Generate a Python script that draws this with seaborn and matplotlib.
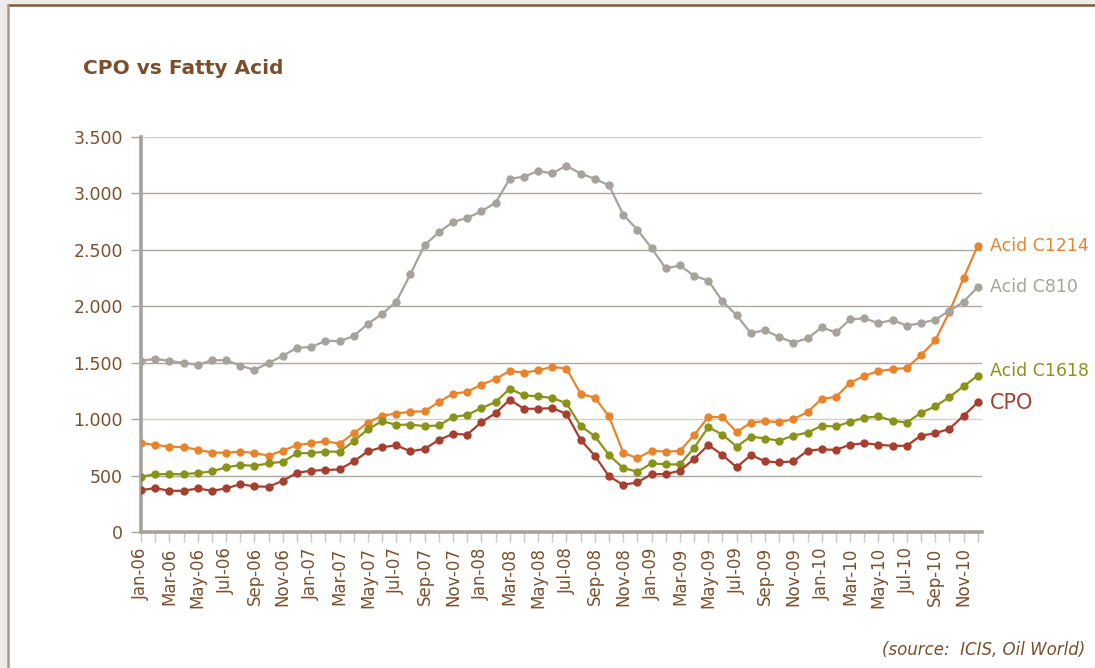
#!/usr/bin/env python

# Modules
import matplotlib
matplotlib.use('Agg')
import matplotlib.pyplot as plt
import matplotlib.patches as mpatches
from matplotlib.lines import Line2D
from matplotlib.ticker import FuncFormatter
import pandas as pd
import seaborn as sns

# Data (monthly, Jan-06 .. Dec-10)
months = pd.date_range('2006-01-01', periods=60, freq='MS')
month_labels = [d.strftime('%b-%y') for d in months]

acid_c810 = [1516, 1534, 1516, 1498, 1481, 1522, 1522, 1475, 1436, 1498,
             1561, 1632, 1638, 1694, 1691, 1736, 1845, 1932, 2041, 2285,
             2543, 2655, 2747, 2783, 2842, 2917, 3130, 3148, 3198, 3178,
             3246, 3175, 3130, 3071, 2813, 2679, 2516, 2335, 2362, 2270,
             2228, 2044, 1920, 1762, 1789, 1727, 1679, 1715, 1813, 1768,
             1884, 1893, 1851, 1878, 1828, 1851, 1881, 1960, 2040, 2170]

acid_c1214 = [789, 771, 757, 751, 730, 703, 703, 712, 700, 676,
              721, 771, 786, 804, 783, 875, 970, 1030, 1050, 1065,
              1070, 1151, 1225, 1243, 1305, 1356, 1427, 1412, 1433, 1463,
              1448, 1225, 1190, 1024, 703, 653, 721, 712, 718, 860,
              1018, 1020, 884, 970, 982, 973, 1000, 1062, 1181, 1196,
              1323, 1383, 1427, 1442, 1454, 1567, 1697, 1950, 2249, 2537]

acid_c1618 = [490, 513, 513, 513, 522, 537, 573, 593, 587, 608,
              623, 697, 700, 712, 712, 804, 911, 982, 949, 952,
              938, 944, 1018, 1038, 1098, 1151, 1270, 1211, 1202, 1187,
              1142, 938, 849, 682, 567, 534, 608, 599, 599, 745,
              929, 863, 757, 846, 828, 810, 854, 881, 941, 935,
              976, 1012, 1024, 985, 970, 1056, 1113, 1196, 1291, 1386]

cpo = [371, 389, 365, 365, 386, 365, 386, 424, 404, 401,
       454, 525, 543, 549, 555, 626, 715, 751, 768, 715,
       736, 816, 869, 863, 973, 1053, 1172, 1092, 1092, 1098,
       1047, 816, 676, 493, 418, 439, 513, 513, 543, 647,
       771, 682, 573, 682, 626, 617, 626, 721, 733, 727,
       774, 786, 774, 763, 765, 854, 875, 914, 1030, 1148]

series_names = ['Acid C1214', 'Acid C810', 'Acid C1618', 'CPO']
series_values = [acid_c1214, acid_c810, acid_c1618, cpo]
series_colors = ['#E8842C', '#A6A29C', '#8A9319', '#A63F2F']

BROWN = '#7B4F2C'
GRID = '#ABA7A1'

# long table for seaborn
df = pd.concat([
    pd.DataFrame({'month': range(len(months)), 'value': vals, 'series': name})
    for name, vals in zip(series_names, series_values)
])

# Figure
sns.set_style('white')
plt.rcParams['font.family'] = ['DejaVu Sans']

fig = plt.figure(figsize=(10.95, 6.68), dpi=100)
fig.patch.set_facecolor('#EDECE9')

# white panel with a brown frame on top and left
x0, y0 = 8 / 1095, 1 - 5 / 668
fig.patches.append(mpatches.Rectangle((x0, 0), 1 - x0, y0, transform=fig.transFigure,
                                      facecolor='white', edgecolor='none', zorder=-2))
fig.lines.append(Line2D([x0, 1], [y0, y0], transform=fig.transFigure,
                        color='#7A5A3A', lw=1.8, zorder=-1))
fig.lines.append(Line2D([x0, x0], [0, y0], transform=fig.transFigure,
                        color='#A8998A', lw=1.8, zorder=-1))

ax = fig.add_axes([141 / 1095, 136 / 668, (982 - 141) / 1095, (532 - 137) / 668])
ax.set_facecolor('none')

sns.lineplot(data=df, x='month', y='value', hue='series', hue_order=series_names,
             palette=series_colors, marker='o', markersize=6, markeredgewidth=0,
             linewidth=1.6, legend=False, ax=ax, zorder=3)

ax.set_xlim(0, 59.3)
ax.set_ylim(0, 3500)
ax.set_yticks(range(0, 3501, 500))
ax.yaxis.set_major_formatter(FuncFormatter(lambda v, p: f'{int(v):,}'.replace(',', '.')))
ax.set_xticks(range(0, 60, 2))
ax.set_xticklabels(month_labels[::2], rotation=90)
ax.set_xticks(range(0, 60), minor=True)
ax.set_xlabel('')
ax.set_ylabel('')

# grid
for v in range(500, 3501, 500):
    ax.axhline(v, color='#D0CFCB' if v in (1000, 3500) else GRID, lw=1.0, zorder=1)

for s in ['top', 'right']:
    ax.spines[s].set_visible(False)
ax.spines['left'].set_color('#A6A29C')
ax.spines['left'].set_linewidth(2.6)
ax.spines['bottom'].set_color('#A6A29C')
ax.spines['bottom'].set_linewidth(2.6)

ax.tick_params(axis='y', which='major', length=7, width=1, color=GRID,
               labelcolor=BROWN, labelsize=12.5, pad=6, left=True)
ax.tick_params(axis='x', which='both', length=7, width=1, color='#C8C6C2',
               labelcolor=BROWN, labelsize=12, pad=4, bottom=True)

# series labels at line ends
label_dy = [0, 0, 5, -1]
label_size = [12.5, 12.5, 12.5, 15]
for name, vals, col, dy, fs in zip(series_names, series_values, series_colors, label_dy, label_size):
    ax.annotate(name, xy=(59, vals[-1]), xytext=(12, dy), textcoords='offset pixels',
                color=col, fontsize=fs, va='center', ha='left', annotation_clip=False)

# title and source
fig.text(83 / 1095, 1 - 68 / 668, 'CPO vs Fatty Acid', color=BROWN,
         fontsize=14.5, fontweight='bold', va='center', ha='left')
fig.text(1085 / 1095, 1 - 650 / 668, '(source:  ICIS, Oil World)', color=BROWN,
         fontsize=12, fontstyle='italic', va='center', ha='right')

fig.savefig('out.png', dpi=100, facecolor=fig.get_facecolor())
